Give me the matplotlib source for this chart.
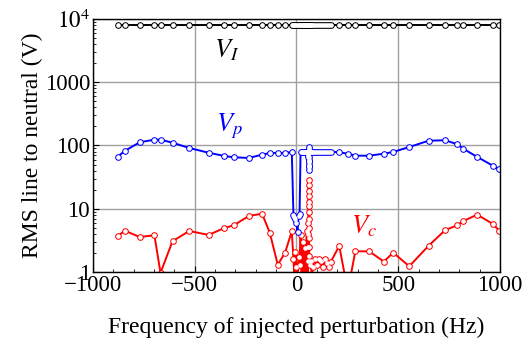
import matplotlib
matplotlib.use("Agg")
import matplotlib.pyplot as plt
from matplotlib.ticker import FixedLocator, LogLocator, NullFormatter, MultipleLocator

plt.rcParams['font.family'] = ['Liberation Serif', 'DejaVu Serif']
plt.rcParams['mathtext.fontset'] = 'stix'

# frequency of injected perturbation (Hz)
freq = [-878, -844, -770, -698, -668, -609, -527, -432, -354, -308, -234, -169, -131, -92, -56, -23,
        -15, -10, -5, 0, 5, 10, 15, 20, 25, 30, 35, 40, 45, 50, 55,
        56, 57, 58, 58.5, 59, 59.25, 59.5, 59.75, 60, 60.25, 60.5, 60.75, 61, 61.5, 62, 63, 64,
        70, 75, 80, 90, 100, 110, 120, 130, 140, 150, 160,
        169, 210, 252, 289, 357, 429, 475, 554, 649, 731, 790, 819, 888, 967, 996]

v_line = [8000, 8000, 8000, 8000, 8000, 8000, 8000, 8000, 8000, 8000, 8000, 8000, 8000, 8000, 8000, 8000,
          8000, 8000, 8000, 8000, 8000, 8000, 8000, 8000, 8000, 8000, 8000, 8000, 8000, 8000, 8000,
          8000, 8000, 8000, 8000, 8000, 8000, 8000, 8000, 8000, 8000, 8000, 8000, 8000, 8000, 8000, 8000, 8000,
          8000, 8000, 8000, 8000, 8000, 8000, 8000, 8000, 8000, 8000, 8000,
          8000, 8000, 8000, 8000, 8000, 8000, 8000, 8000, 8000, 8000, 8000, 8000, 8000, 8000, 8000]

v_p = [66.5, 81.9, 112.5, 123.5, 123.5, 110.7, 91.3, 76.9, 68.2, 65.1, 63.5, 71.6, 76.1, 76.1, 76.1, 78.9,
       8.0, 7.5, 7.0, 5.9, 4.3, 7.8, 8.2, 80, 80, 80, 80, 80, 80, 80, 80,
       80, 78, 70, 66, 60, 55, 50, 45, 41, 48, 57, 66, 80, 94, 88, 82, 80,
       80, 80, 80, 80, 80, 80, 80, 80, 80, 80, 80,
       79.8, 78, 74.2, 69, 69, 74.2, 79, 94.6, 119, 121, 104.5, 89, 65.8, 47.4, 42.5]

v_c = [3.67, 4.5, 3.57, 3.8, 0.97, 3.06, 4.45, 3.85, 4.96, 5.47, 7.68, 8.35, 4.14, 1.30, 2.02, 4.4,
       1.6, 0.8, 2.1, 1.2, 0.7, 1.7, 1.3, 3.8, 0.8, 3.0, 0.7, 2.4, 0.8, 4.5, 0.9,
       1.5, 2.5, 4.0, 6.0, 9.0, 13, 19, 28, 24, 16, 11, 7, 5, 3.5, 2.5, 1.8, 1.3,
       1.5, 0.8, 1.2, 1.6, 1.3, 1.6, 1.5, 1.2, 1.6, 1.4, 1.2,
       1.46, 2.58, 0.5, 2.12, 2.12, 1.46, 2.02, 1.23, 2.6, 4.61, 5.47, 6.4, 8.05, 5.68, 4.45]

fig = plt.figure(figsize=(5.22, 3.46), dpi=100)
ax = fig.add_axes([0.178, 0.214, 0.780, 0.731])

for vals, col, z in [(v_c, '#ff0000', 3), (v_p, '#0000ff', 4), (v_line, 'black', 5)]:
    ax.plot(freq, vals, color=col, linewidth=1.4, zorder=z)
    # hollow circle markers: coloured disc, then white disc on top (overlaps merge into outlines)
    ax.scatter(freq, vals, s=23, c=col, linewidths=0, zorder=z + 0.3)
    ax.scatter(freq, vals, s=11, c='white', linewidths=0, zorder=z + 0.6)

ax.set_yscale('log')
ax.set_xlim(-1000, 1000)
ax.set_ylim(1, 1e4)
ax.xaxis.set_major_locator(FixedLocator([-1000, -500, 0, 500, 1000]))
ax.xaxis.set_minor_locator(MultipleLocator(100))
ax.yaxis.set_major_locator(FixedLocator([1, 10, 100, 1000, 1e4]))
ax.set_yticklabels(['1', '10', '100', '1000', '$10^4$'])
ax.yaxis.set_minor_locator(LogLocator(base=10, subs=range(2, 10)))
ax.yaxis.set_minor_formatter(NullFormatter())
ax.grid(True, which='major', color='#a0a0a0', linewidth=1.0)
ax.set_axisbelow(True)
ax.tick_params(which='both', direction='in', labelsize=16.5, top=False, right=False)
ax.tick_params(which='major', length=4, pad=2)
ax.tick_params(which='minor', length=2)
for s in ax.spines.values():
    s.set_linewidth(1.0)
    s.set_zorder(10)

ax.set_xlabel('Frequency of injected perturbation (Hz)', fontsize=17, labelpad=15)
ax.set_ylabel('RMS line to neutral (V)', fontsize=17, labelpad=1)

ax.text(-345, 3200, '$V_I$', color='black', fontsize=19, ha='center', va='center')
ax.text(-330, 200, '$V_p$', color='#0000ff', fontsize=19, ha='center', va='center')
ax.text(330, 5.3, '$V_c$', color='#ff0000', fontsize=19, ha='center', va='center')

fig.savefig('out.png', dpi=100)
